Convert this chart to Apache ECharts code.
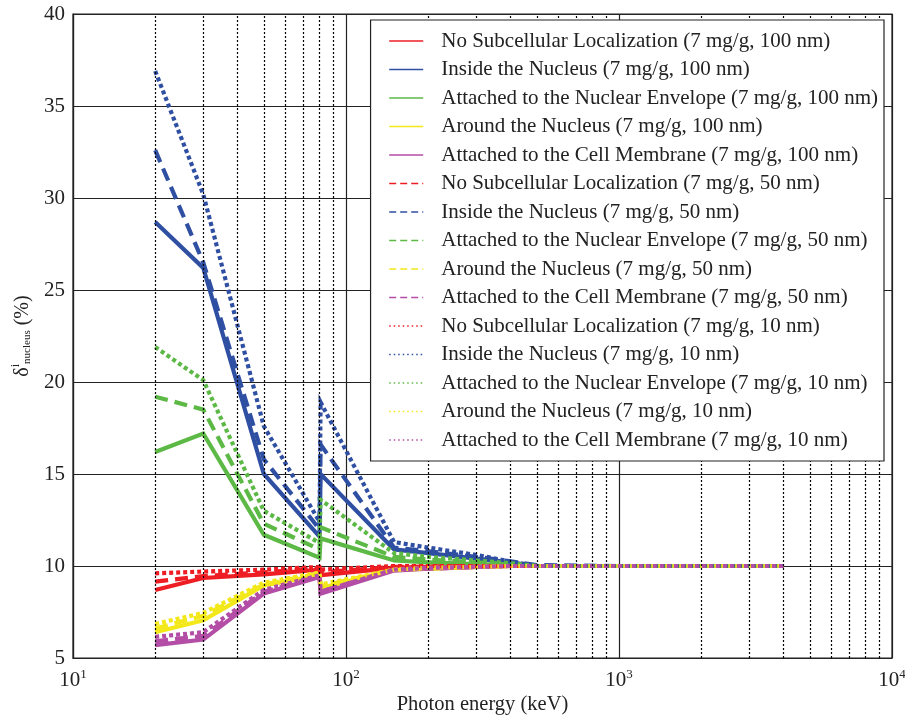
<!DOCTYPE html>
<html>
<head>
<meta charset="utf-8">
<script src="https://cdn.jsdelivr.net/npm/echarts@6/dist/echarts.min.js"></script>
<style>html,body{margin:0;padding:0;background:#fff}#c{width:905px;height:720px}</style>
</head>
<body>
<div id="c"></div>
<script>
// Photon energies (keV)
const energies = [20, 30, 50, 80, 80.7, 150, 200, 300, 400, 500, 1000, 2000, 4000];

// 100 nm
const noLoc100    = [8.7, 9.35, 9.55, 9.8, 9.5, 9.9, 9.95, 10.0, 10.0, 10.0, 10.0, 10.0, 10.0];
const inside100   = [28.7, 26.2, 15.0, 11.6, 15.0, 10.9, 10.7, 10.4, 10.2, 10.0, 10.0, 10.0, 10.0];
const envelope100 = [16.2, 17.2, 11.7, 10.45, 11.5, 10.3, 10.2, 10.1, 10.05, 10.0, 10.0, 10.0, 10.0];
const around100   = [6.4, 7.05, 8.95, 9.5, 8.8, 9.8, 9.85, 9.95, 10.0, 10.0, 10.0, 10.0, 10.0];
const membrane100 = [5.7, 6.0, 8.5, 9.4, 8.5, 9.75, 9.85, 9.95, 10.0, 10.0, 10.0, 10.0, 10.0];
// 50 nm
const noLoc50     = [9.15, 9.45, 9.65, 9.9, 9.65, 9.95, 9.97, 10.0, 10.0, 10.0, 10.0, 10.0, 10.0];
const inside50    = [32.6, 26.5, 15.8, 12.0, 16.6, 11.0, 10.8, 10.5, 10.25, 10.05, 10.0, 10.0, 10.0];
const envelope50  = [19.2, 18.5, 12.3, 10.9, 12.1, 10.5, 10.35, 10.2, 10.1, 10.0, 10.0, 10.0, 10.0];
const around50    = [6.6, 7.3, 9.0, 9.6, 8.9, 9.8, 9.85, 9.95, 10.0, 10.0, 10.0, 10.0, 10.0];
const membrane50  = [5.9, 6.2, 8.6, 9.45, 8.6, 9.8, 9.85, 9.95, 10.0, 10.0, 10.0, 10.0, 10.0];
// 10 nm
const noLoc10     = [9.6, 9.7, 9.8, 9.95, 9.8, 10.0, 10.0, 10.0, 10.0, 10.0, 10.0, 10.0, 10.0];
const inside10    = [36.9, 30.2, 17.6, 12.4, 18.9, 11.3, 11.0, 10.6, 10.25, 10.0, 10.0, 10.0, 10.0];
const envelope10  = [21.9, 20.1, 13.0, 11.25, 13.6, 10.7, 10.5, 10.3, 10.15, 10.0, 10.0, 10.0, 10.0];
const around10    = [6.85, 7.45, 9.1, 9.65, 9.0, 9.8, 9.9, 9.95, 10.0, 10.0, 10.0, 10.0, 10.0];
const membrane10  = [6.15, 6.4, 8.7, 9.5, 8.6, 9.8, 9.9, 9.95, 10.0, 10.0, 10.0, 10.0, 10.0];

const yTicks = [5, 10, 15, 20, 25, 30, 35, 40];
const minorGridX = [20,30,40,50,60,70,80,90,200,300,400,500,600,700,800,900,2000,3000,4000,5000,6000,7000,8000,9000];

const colors = {red:'#ee1d24', blue:'#2f4fa2', green:'#5db946', yellow:'#f3e81a', magenta:'#b44da6'};
const locNames = ['No Subcellular Localization','Inside the Nucleus','Attached to the Nuclear Envelope','Around the Nucleus','Attached to the Cell Membrane'];
const locColors = [colors.red, colors.blue, colors.green, colors.yellow, colors.magenta];
const groups = [
  {size:'100 nm', data:[noLoc100, inside100, envelope100, around100, membrane100], type:'solid', leg:'solid'},
  {size:'50 nm',  data:[noLoc50, inside50, envelope50, around50, membrane50], type:[13,7], leg:[7,4]},
  {size:'10 nm',  data:[noLoc10, inside10, envelope10, around10, membrane10], type:[4,3], leg:[1.5,3]}
];

const series = [];
const legendData = [];
groups.forEach(g => {
  g.data.forEach((arr, i) => {
    const name = locNames[i] + ' (7 mg/g, ' + g.size + ')';
    legendData.push({name, lineStyle:{width:1.3, type:g.leg}});
    series.push({
      name, type:'line', symbol:'none', showSymbol:false, z:3,
      lineStyle:{color:locColors[i], width:4.2, type:g.type, cap:'butt', join:'miter'},
      itemStyle:{color:locColors[i]},
      data: energies.map((e, k) => [e, arr[k]])
    });
  });
});
series.unshift({
  name:'minorGrid', type:'line', data:[], z:1, silent:true,
  markLine:{silent:true, symbol:['none','none'], label:{show:false}, animation:false,
    lineStyle:{color:'#000', type:[2,2], width:1.2},
    data: minorGridX.map(v => ({xAxis:v}))}
});

const FONT = 'Liberation Serif';
const chart = echarts.init(document.getElementById('c'));
chart.setOption({
  animation:false,
  backgroundColor:'#fff',
  textStyle:{fontFamily:FONT},
  grid:{left:73, right:13, top:14, bottom:62, outerBoundsMode:'none', containLabel:false,
    show:true, borderColor:'#222', borderWidth:1.2, backgroundColor:'transparent'},
  legend:{
    data:legendData, orient:'vertical', right:21, top:20, z:10,
    backgroundColor:'#fff', borderColor:'#222', borderWidth:1.2,
    padding:[9, 6, 9, 18], itemWidth:34, itemHeight:14, itemGap:4.5,
    itemStyle:{opacity:0, color:'rgba(0,0,0,0)', borderWidth:0},
    textStyle:{fontFamily:FONT, fontSize:21, color:'#222', lineHeight:24, padding:[0,0,0,13]}
  },
  xAxis:{
    type:'log', logBase:10, min:10, max:10000,
    name:'Photon energy (keV)', nameLocation:'middle', nameGap:36, nameMoveOverlap:false,
    nameTextStyle:{fontFamily:FONT, fontSize:20.5, color:'#222'},
    axisLine:{show:true, lineStyle:{color:'#222', width:1.2}},
    axisTick:{show:false},
    splitLine:{show:true, lineStyle:{color:'#222', width:1.2}},
    axisLabel:{
      margin:10, color:'#222',
      formatter: v => '{b|10}{s|' + Math.round(Math.log10(v)) + '}',
      rich:{b:{fontFamily:FONT, fontSize:21, color:'#222'}, s:{fontFamily:FONT, fontSize:13, color:'#222', padding:[0,0,11,0]}}
    }
  },
  yAxis:{
    type:'value', min:yTicks[0], max:yTicks[yTicks.length-1], interval:5,
    name:'{a|δ}{b|i}{c|nucleus}{a| (%)}', nameLocation:'middle', nameGap:38, nameRotate:90, nameMoveOverlap:false,
    nameTextStyle:{rich:{
      a:{fontFamily:FONT, fontSize:20, color:'#222'},
      b:{fontFamily:FONT, fontSize:12, color:'#222', padding:[0,0,13,0]},
      c:{fontFamily:FONT, fontSize:11, color:'#222', padding:[9,0,0,0]}
    }},
    axisLine:{show:true, lineStyle:{color:'#222', width:1.2}},
    axisTick:{show:false},
    splitLine:{show:true, lineStyle:{color:'#222', width:1.2}},
    axisLabel:{fontFamily:FONT, fontSize:21, color:'#222', margin:8}
  },
  series
});
</script>
</body>
</html>
